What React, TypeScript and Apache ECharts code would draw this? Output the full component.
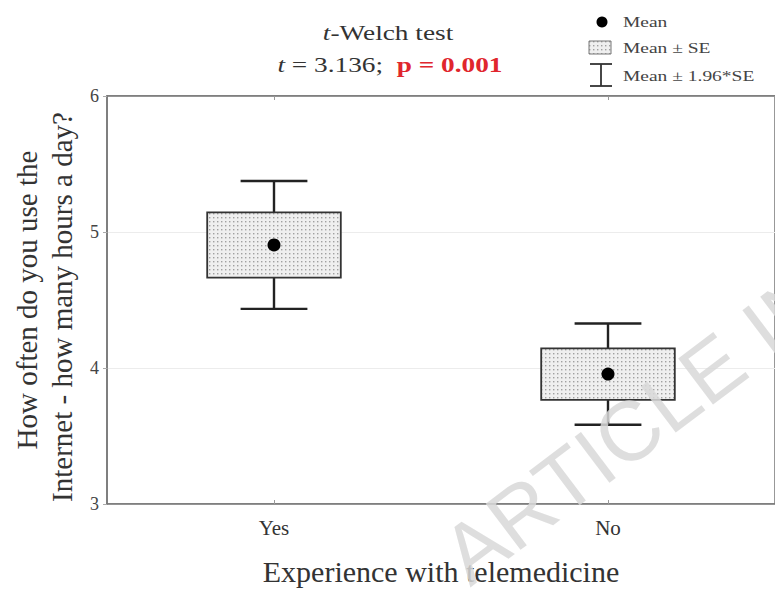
import React, { useEffect, useRef } from "react";
import * as echarts from "echarts";

// Groups on the x axis
const categories = ["Yes", "No"];
// Group means and standard errors of daily Internet hours
const means = [4.905, 3.955];
const standardErrors = [0.24, 0.19];
// Multiplier for the outer whiskers (95% interval)
const ciFactor = 1.96;
// Y-axis range
const yMin = 3;
const yMax = 6;

const SERIF = "'Liberation Serif', 'Times New Roman', serif";

// Dotted light-grey fill used for the Mean ± SE boxes
const dotPattern =
  "data:image/svg+xml;utf8," +
  encodeURIComponent(
    "<svg xmlns='http://www.w3.org/2000/svg' width='4' height='4'>" +
      "<rect width='4' height='4' fill='#efefef'/>" +
      "<rect x='1' y='1' width='1.4' height='1.4' fill='#a0a0a0'/>" +
      "</svg>"
  );

export default function App() {
  const ref = useRef<HTMLDivElement>(null);

  useEffect(() => {
    document.body.style.margin = "0";
    if (!ref.current) return;
    const chart = echarts.init(ref.current, undefined, { renderer: "svg" });

    const data = categories.map((_, i) => [i, means[i], standardErrors[i]]);
    const legendText = { verticalAlign: "middle", fontFamily: SERIF, fontSize: 15, fill: "#444" };

    chart.setOption({
      animation: false,
      backgroundColor: "#ffffff",
      grid: { left: 107, right: -4, top: 96, bottom: 84, show: true, borderColor: "#777", borderWidth: 1.5 },
      xAxis: [
        {
          type: "category",
          data: categories,
          boundaryGap: true,
          axisLine: { show: true, lineStyle: { color: "#777", width: 1.5 } },
          axisTick: { show: true, alignWithLabel: true, length: -4, lineStyle: { color: "#999" } },
          axisLabel: { color: "#333", fontFamily: SERIF, fontSize: 21, margin: 13 },
          name: "Experience with telemedicine",
          nameLocation: "middle",
          nameGap: 52,
          nameTextStyle: { color: "#333", fontFamily: SERIF, fontSize: 30 },
        },
        {
          type: "category",
          data: categories,
          position: "top",
          boundaryGap: true,
          axisLine: { show: true, lineStyle: { color: "#777", width: 1.5 } },
          axisTick: { show: true, alignWithLabel: true, length: -4, lineStyle: { color: "#999" } },
          axisLabel: { show: false },
        },
      ],
      yAxis: {
        type: "value",
        min: yMin,
        max: yMax,
        interval: 1,
        axisLine: { show: true, lineStyle: { color: "#777", width: 1.5 } },
        axisTick: { show: true, length: 4, lineStyle: { color: "#aaa" } },
        axisLabel: { color: "#444", fontFamily: SERIF, fontSize: 18, margin: 8 },
        splitLine: { show: true, lineStyle: { color: "#ececec", width: 1 } },
      },
      series: [
        {
          type: "custom",
          data,
          z: 5,
          renderItem: (params: any, api: any) => {
            const idx = api.value(0);
            const m = api.value(1);
            const se = api.value(2);
            const band = api.size([1, 0])[0];
            const boxW = band * 0.4;
            const capW = band * 0.2;
            const c = api.coord([idx, m]);
            const seTop = api.coord([idx, m + se])[1];
            const seBot = api.coord([idx, m - se])[1];
            const ciTop = api.coord([idx, m + ciFactor * se])[1];
            const ciBot = api.coord([idx, m - ciFactor * se])[1];
            const x = c[0];
            const lineStyle = { stroke: "#222", lineWidth: 2.4 };
            return {
              type: "group",
              children: [
                { type: "line", shape: { x1: x, y1: ciTop, x2: x, y2: seTop }, style: lineStyle },
                { type: "line", shape: { x1: x, y1: seBot, x2: x, y2: ciBot }, style: lineStyle },
                { type: "line", shape: { x1: x - capW / 2, y1: ciTop, x2: x + capW / 2, y2: ciTop }, style: lineStyle },
                { type: "line", shape: { x1: x - capW / 2, y1: ciBot, x2: x + capW / 2, y2: ciBot }, style: lineStyle },
                {
                  type: "rect",
                  shape: { x: x - boxW / 2, y: seTop, width: boxW, height: seBot - seTop },
                  style: { fill: { image: dotPattern, repeat: "repeat" }, stroke: "#333", lineWidth: 1.8 },
                },
                { type: "circle", shape: { cx: x, cy: c[1], r: 6.5 }, style: { fill: "#000" } },
              ],
            };
          },
        },
      ],
      graphic: [
        // Test heading
        {
          type: "text",
          x: 388,
          y: 33,
          scaleX: 1.3,
          style: {
            text: "{i|t}-Welch test",
            align: "center",
            verticalAlign: "middle",
            fontFamily: SERIF,
            fontSize: 21,
            fill: "#333",
            rich: { i: { fontStyle: "italic", fontFamily: SERIF, fontSize: 21, fill: "#333" } },
          },
        },
        {
          type: "text",
          x: 390,
          y: 65,
          scaleX: 1.3,
          style: {
            text: "{i|t} = 3.136;  {p|p = 0.001}",
            align: "center",
            verticalAlign: "middle",
            fontFamily: SERIF,
            fontSize: 21,
            fill: "#333",
            rich: {
              i: { fontStyle: "italic", fontFamily: SERIF, fontSize: 21, fill: "#333" },
              p: { fontWeight: "bold", fontFamily: SERIF, fontSize: 21, fill: "#e0262d" },
            },
          },
        },
        // Legend
        { type: "circle", shape: { cx: 602, cy: 22, r: 5.5 }, style: { fill: "#000" } },
        { type: "text", x: 623, y: 22, scaleX: 1.3, style: { text: "Mean", ...legendText } },
        {
          type: "rect",
          shape: { x: 589, y: 41, width: 22, height: 13 },
          style: { fill: { image: dotPattern, repeat: "repeat" }, stroke: "#777", lineWidth: 1 },
        },
        { type: "text", x: 623, y: 48, scaleX: 1.3, style: { text: "Mean ± SE", ...legendText } },
        { type: "line", shape: { x1: 590, y1: 64, x2: 612, y2: 64 }, style: { stroke: "#333", lineWidth: 1.8 } },
        { type: "line", shape: { x1: 601, y1: 64, x2: 601, y2: 86 }, style: { stroke: "#333", lineWidth: 1.8 } },
        { type: "line", shape: { x1: 590, y1: 86, x2: 612, y2: 86 }, style: { stroke: "#333", lineWidth: 1.8 } },
        { type: "text", x: 623, y: 76, scaleX: 1.3, style: { text: "Mean ± 1.96*SE", ...legendText } },
        // Y-axis title, two lines
        {
          type: "text",
          x: 27,
          y: 300,
          rotation: Math.PI / 2,
          style: {
            text: "How often do you use the",
            align: "center",
            verticalAlign: "middle",
            fontFamily: SERIF,
            fontSize: 29,
            fill: "#333",
          },
        },
        {
          type: "text",
          x: 62,
          y: 307,
          rotation: Math.PI / 2,
          style: {
            text: "Internet - how many hours a day?",
            align: "center",
            verticalAlign: "middle",
            fontFamily: SERIF,
            fontSize: 29,
            fill: "#333",
          },
        },
        // Watermark
        {
          type: "text",
          x: 478,
          y: 598,
          z: 100,
          rotation: (37 * Math.PI) / 180,
          style: {
            text: "ARTICLE IN PRESS",
            align: "left",
            verticalAlign: "bottom",
            fontFamily: "'Liberation Sans', Arial, sans-serif",
            fontSize: 84,
            fill: "rgba(216,216,216,0.85)",
          },
        },
      ],
    });

    return () => chart.dispose();
  }, []);

  return <div ref={ref} style={{ width: 775, height: 591 }} />;
}
